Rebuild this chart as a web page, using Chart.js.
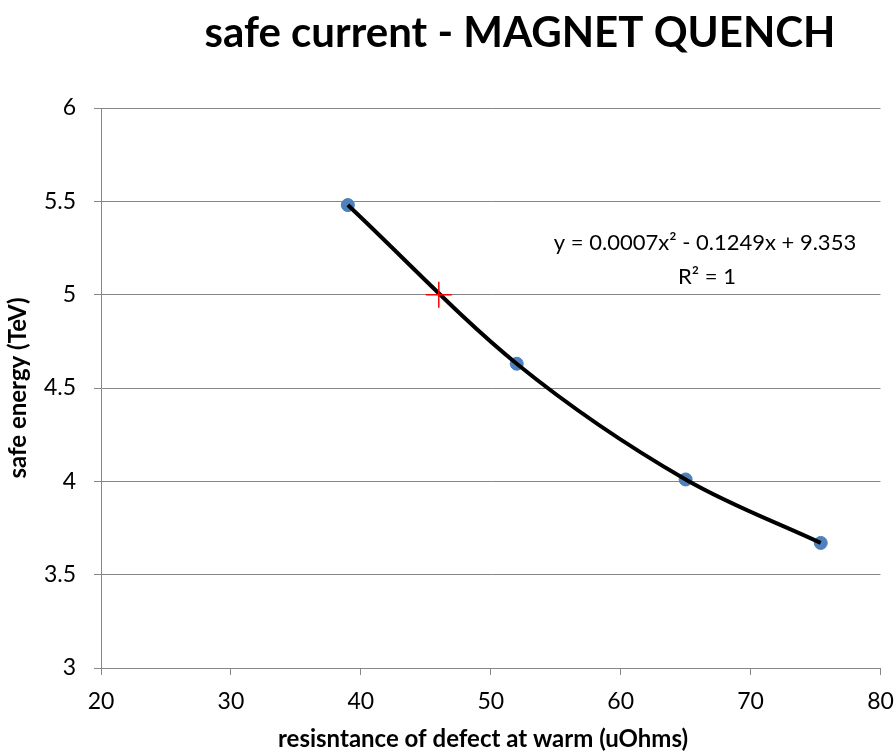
<!DOCTYPE html>
<html>
<head>
<meta charset="utf-8">
<script src="https://cdn.jsdelivr.net/npm/chart.js@4"></script>
<style>
html,body{margin:0;padding:0;background:#fff;}
#wrap{position:relative;width:895px;height:755px;}
</style>
</head>
<body>
<div id="wrap"><canvas id="c" width="895" height="755"></canvas></div>
<script>
// data
const resistance = [39, 52, 65, 75.4];
const safeEnergy = [5.48, 4.63, 4.01, 3.67];
const markX = [46];
const markY = [5.0];
const xTicks = [20, 30, 40, 50, 60, 70, 80];
const yTicks = [3, 3.5, 4, 4.5, 5, 5.5, 6];
const titleText = 'safe current - MAGNET QUENCH';
const xTitle = 'resisntance of defect at warm (uOhms)';
const yTitle = 'safe energy (TeV)';
const eqLines = ['y = 0.0007x\u00B2 - 0.1249x + 9.353', 'R\u00B2 = 1'];

const FONT = 'Lato, Carlito, "Open Sans", sans-serif';
const points = resistance.map((x, i) => ({x, y: safeEnergy[i]}));
const mark = markX.map((x, i) => ({x, y: markY[i]}));

const textPlugin = {
  id: 'texts',
  afterDraw(chart) {
    const ctx = chart.ctx;
    ctx.save();
    ctx.fillStyle = '#000';
    ctx.textAlign = 'center';
    ctx.textBaseline = 'middle';
    ctx.font = 'bold 42px ' + FONT;
    ctx.fillText(titleText, 520, 33);
    ctx.font = 'bold 24px ' + FONT;
    ctx.fillText(xTitle, 483, 739);
    ctx.font = '22px ' + FONT;
    ctx.fillText(eqLines[0], 705, 243);
    ctx.fillText(eqLines[1], 707, 277);
    ctx.restore();
  }
};

new Chart(document.getElementById('c'), {
  type: 'scatter',
  data: {
    datasets: [
      {
        label: 'mark',
        data: mark,
        pointStyle: 'cross',
        pointRadius: 13,
        pointBorderColor: '#FF0000',
        pointBorderWidth: 1.5,
        order: 0
      },
      {
        label: 'trend',
        data: points,
        showLine: true,
        borderColor: '#000000',
        borderWidth: 4,
        cubicInterpolationMode: 'monotone',
        pointRadius: 0,
        order: 1
      },
      {
        label: 'data',
        data: points,
        pointRadius: 6.5,
        pointBackgroundColor: '#4F81BD',
        pointBorderColor: '#4A7EBB',
        pointBorderWidth: 1,
        order: 2
      }
    ]
  },
  options: {
    responsive: false,
    animation: false,
    layout: {padding: {left: 0, right: 0, top: 108, bottom: 0}},
    plugins: {legend: {display: false}, tooltip: {enabled: false}, title: {display: false}},
    scales: {
      x: {
        type: 'linear',
        min: 20, max: 80,
        afterBuildTicks(s) { s.ticks = xTicks.map(v => ({value: v})); },
        afterFit(s) { s.height = 87; s.paddingRight = 14; },
        grid: {drawOnChartArea: false, drawTicks: true, tickLength: 7, color: '#868686'},
        border: {display: true, color: '#868686', width: 1},
        ticks: {color: '#000', font: {family: FONT, size: 23}, padding: 13, maxRotation: 0,
                callback: v => String(v)}
      },
      y: {
        type: 'linear',
        min: 3, max: 6,
        afterBuildTicks(s) { s.ticks = yTicks.map(v => ({value: v})); },
        afterFit(s) { s.width = 101; },
        grid: {drawOnChartArea: true, drawTicks: true, tickLength: 7, color: '#868686', lineWidth: 1},
        border: {display: true, color: '#868686', width: 1},
        ticks: {color: '#000', font: {family: FONT, size: 23}, padding: 18,
                callback: v => String(v)},
        title: {display: true, text: yTitle, color: '#000', font: {family: FONT, size: 24, weight: 'bold'}, padding: {top: 4, bottom: 0}}
      }
    }
  },
  plugins: [textPlugin]
});
</script>
</body>
</html>
